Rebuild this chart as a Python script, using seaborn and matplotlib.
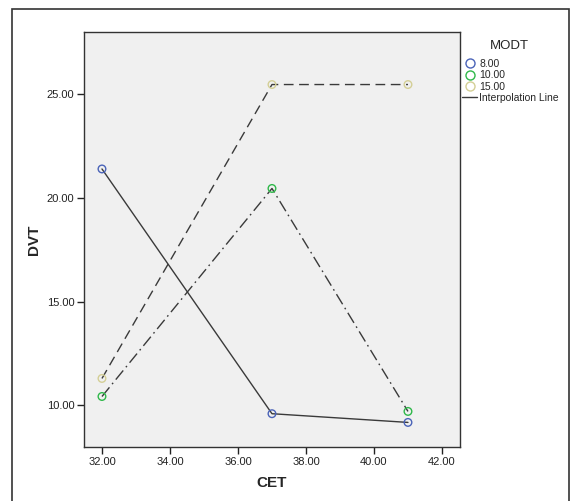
import matplotlib
matplotlib.use("Agg")
import matplotlib.pyplot as plt
import seaborn as sns
import pandas as pd
from matplotlib.lines import Line2D
from matplotlib.patches import Rectangle

# Data
cet = [32, 37, 41]
dvt_8 = [21.4, 9.6, 9.18]
dvt_10 = [10.43, 20.46, 9.71]
dvt_15 = [11.3, 25.47, 25.47]
modt_labels = ["8.00", "10.00", "15.00"]
marker_colors = ["#4a63b8", "#2fb84a", "#d4cf96"]

df = pd.DataFrame({
    "CET": cet * 3,
    "DVT": dvt_8 + dvt_10 + dvt_15,
    "MODT": [m for m in modt_labels for _ in cet],
})

sns.set_style("white")
plt.rcParams["font.family"] = ["Liberation Sans", "DejaVu Sans"]

fig = plt.figure(figsize=(5.75, 5.01), dpi=100)
ax = fig.add_axes([0.146, 0.108, 0.654, 0.828])
ax.set_facecolor("#f0f0f0")

# Interpolation lines: solid / dash-dot / dashed
sns.lineplot(data=df, x="CET", y="DVT", style="MODT", style_order=modt_labels,
             dashes=["", (8.5, 3, 1.2, 3), (7, 4)],
             color="#3a3a3a", linewidth=1.0, legend=False, ax=ax)

# Markers
sns.scatterplot(data=df, x="CET", y="DVT", hue="MODT", hue_order=modt_labels,
                palette=marker_colors, marker="o", s=30,
                linewidth=1.0, legend=False, ax=ax, zorder=3)
# open circles
for coll in ax.collections:
    fc = coll.get_facecolors()
    coll.set_edgecolors(fc)
    coll.set_facecolors("none")

ax.set_xlim(31.47, 42.53)
ax.set_ylim(8.0, 28.0)
ax.set_xticks([32, 34, 36, 38, 40, 42])
ax.set_yticks([10, 15, 20, 25])
ax.xaxis.set_major_formatter(matplotlib.ticker.FormatStrFormatter("%.2f"))
ax.yaxis.set_major_formatter(matplotlib.ticker.FormatStrFormatter("%.2f"))
ax.tick_params(axis="both", direction="out", length=5, width=1, color="#222222",
               labelsize=8, labelcolor="#222222", bottom=True, left=True, pad=2)
for sp in ax.spines.values():
    sp.set_color("#333333")
    sp.set_linewidth(1.0)
    sp.set_visible(True)

ax.set_xlabel("CET", fontsize=11, fontweight="bold", labelpad=7)
ax.set_ylabel("DVT", fontsize=11, fontweight="bold", labelpad=4)

# Legend
handles = [Line2D([], [], marker="o", linestyle="none", markerfacecolor="none",
                  markeredgecolor=c, markersize=6.5, markeredgewidth=1.0)
           for c in marker_colors]
handles.append(Line2D([], [], color="#3a3a3a", linewidth=1.0))
labels = modt_labels + ["Interpolation Line"]
leg = fig.legend(handles, labels, title="MODT", loc="upper left",
                 bbox_to_anchor=(0.803, 0.92), frameon=False, fontsize=7.5,
                 title_fontsize=9.5, handlelength=1.5, handletextpad=0.2,
                 labelspacing=0.12, borderaxespad=0, borderpad=0)
leg._legend_box.align = "left"
leg._legend_box.sep = 5
leg.get_title().set_position((28, 0))

# Outer frame
fig.patches.append(Rectangle((12 / 575, -0.02), 557 / 575, (492 / 501) + 0.02,
                             transform=fig.transFigure, fill=False,
                             edgecolor="#333333", linewidth=1.2))

fig.savefig("out.png", dpi=100)
